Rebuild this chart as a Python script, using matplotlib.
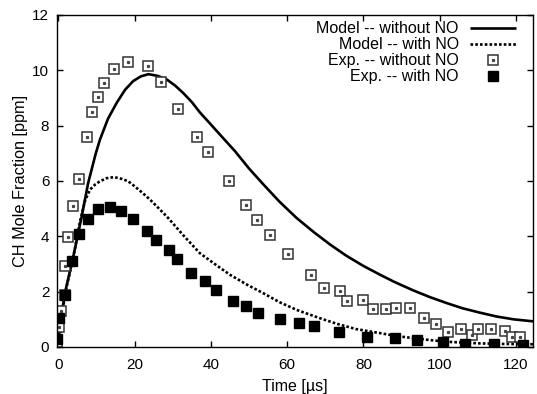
import matplotlib
matplotlib.use('Agg')
import matplotlib.pyplot as plt
from matplotlib.legend_handler import HandlerTuple

plt.rcParams['font.family'] = ['Liberation Sans', 'DejaVu Sans']
plt.rcParams['font.size'] = 11

# model -- without NO
model_wo_t = [0, 0.4, 1.7, 3.9, 6.1, 7.8, 9.8, 10.9, 13.0, 15.3, 17.5, 19.6, 21.6, 23.6,
              26.0, 28.4, 30.6, 32.8, 35.0, 37.1, 40.0, 43.0, 46.3, 50.0, 53.8, 58.0,
              62.5, 67.0, 71.3, 75.5, 80.0, 84.4, 88.0, 93.0, 97.5, 102.0, 106.0,
              110.6, 115.0, 119.4, 125.0]
model_wo_y = [0, 0.8, 1.95, 3.27, 4.72, 5.93, 7.0, 7.5, 8.25, 8.83, 9.3, 9.61, 9.78, 9.86,
              9.8, 9.67, 9.45, 9.17, 8.85, 8.48, 8.04, 7.58, 7.08, 6.45, 5.87, 5.25,
              4.66, 4.15, 3.70, 3.30, 2.93, 2.61, 2.36, 2.05, 1.80, 1.58, 1.40,
              1.24, 1.10, 1.0, 0.92]

# model -- with NO
model_w_t = [0, 1.7, 3.9, 5.6, 7.0, 8.3, 9.6, 10.9, 12.6, 14.6, 16.5, 18.3, 19.6, 21.8,
             24.0, 26.4, 28.8, 33.0, 37.1, 41.5, 45.0, 49.5, 53.8, 58.0, 62.5, 68.6,
             73.0, 78.0, 84.4, 88.5, 93.1, 97.5, 101.9, 106.0, 110.6, 117.0, 125.0]
model_w_y = [0, 1.9, 3.25, 4.5, 5.3, 5.69, 5.87, 5.99, 6.1, 6.14, 6.08, 5.99, 5.85, 5.6,
             5.33, 5.0, 4.66, 4.0, 3.39, 2.95, 2.61, 2.25, 1.94, 1.62, 1.34, 1.04,
             0.84, 0.65, 0.50, 0.40, 0.32, 0.25, 0.19, 0.16, 0.13, 0.11, 0.10]

# exp. -- without NO
exp_wo_t = [-0.3, 0.2, 0.8, 1.7, 1.7, 2.6, 3.9, 5.4, 7.6, 8.9, 10.4, 12.0, 14.6, 18.3,
            23.6, 27.0, 31.3, 36.3, 39.3, 44.8, 49.1, 52.1, 55.4, 60.3, 66.3, 69.6,
            73.9, 75.6, 79.9, 82.4, 85.9, 88.5, 92.2, 95.9, 99.1, 102.3, 105.5,
            108.5, 110.1, 113.6, 117.2, 118.9, 121.0]
exp_wo_y = [0.19, 0.71, 1.30, 1.88, 2.93, 3.99, 5.11, 6.08, 7.6, 8.49, 9.02, 9.55, 10.05,
            10.3, 10.16, 9.58, 8.6, 7.6, 7.04, 5.99, 5.14, 4.58, 4.04, 3.37, 2.61,
            2.14, 2.03, 1.68, 1.70, 1.39, 1.39, 1.41, 1.41, 1.03, 0.83, 0.55, 0.64,
            0.45, 0.66, 0.64, 0.57, 0.37, 0.37]

# exp. -- with NO
exp_w_t = [-0.3, 0.1, 1.7, 3.5, 5.4, 7.7, 10.3, 13.5, 16.4, 19.5, 23.1, 25.5, 29.0,
           31.1, 34.7, 38.5, 41.3, 45.7, 49.2, 52.3, 58.1, 63.1, 67.0, 73.5, 80.9,
           88.3, 94.0, 101.0, 106.7, 114.3, 121.8]
exp_w_y = [0.28, 1.04, 1.88, 3.09, 4.09, 4.63, 5.0, 5.06, 4.9, 4.64, 4.21, 3.85, 3.49,
           3.18, 2.67, 2.37, 2.07, 1.68, 1.49, 1.22, 1.0, 0.86, 0.77, 0.55, 0.37,
           0.31, 0.25, 0.17, 0.11, 0.11, 0.06]

labels = ['Model -- without NO', 'Model -- with NO', 'Exp. -- without NO', 'Exp. -- with NO']

fig = plt.figure(figsize=(5.37, 3.94), dpi=100)
ax = fig.add_axes([0.106, 0.1193, 0.8866, 0.8427])

l1, = ax.plot(model_wo_t, model_wo_y, color='black', lw=1.9, solid_capstyle='butt')
l2, = ax.plot(model_w_t, model_w_y, color='black', lw=1.9, linestyle=(0, (1, 0.8)))
sq, = ax.plot(exp_wo_t, exp_wo_y, 's', color='#333333', mfc='white', mew=1.1, ms=6.5, ls='none')
dot, = ax.plot(exp_wo_t, exp_wo_y, 's', color='#444444', ms=1.3, ls='none')
fs, = ax.plot(exp_w_t, exp_w_y, 's', color='black', ms=7, ls='none')

ax.set_xlim(-0.4, 124.5)
ax.set_ylim(0, 12)
ax.set_xticks([0, 20, 40, 60, 80, 100, 120])
ax.set_yticks([0, 2, 4, 6, 8, 10, 12])
ax.tick_params(direction='in', top=True, right=True, length=4, width=1, labelsize=11)
ax.tick_params(axis='x', pad=8)
ax.tick_params(axis='y', pad=5.5)
for s in ax.spines.values():
    s.set_linewidth(1)

ax.set_xlabel('Time [µs]', fontsize=11.5, labelpad=5)
ax.set_ylabel('CH Mole Fraction [ppm]', fontsize=11.7, labelpad=3)

leg = ax.legend([l1, l2, (sq, dot), fs], labels,
                handler_map={tuple: HandlerTuple(ndivide=1)},
                loc='upper right', bbox_to_anchor=(0.978, 1.0),
                frameon=False, markerfirst=False,
                handlelength=2.9, handletextpad=0.7, labelspacing=0.06,
                borderaxespad=0, fontsize=11.5)

fig.savefig('out.png', dpi=100)
